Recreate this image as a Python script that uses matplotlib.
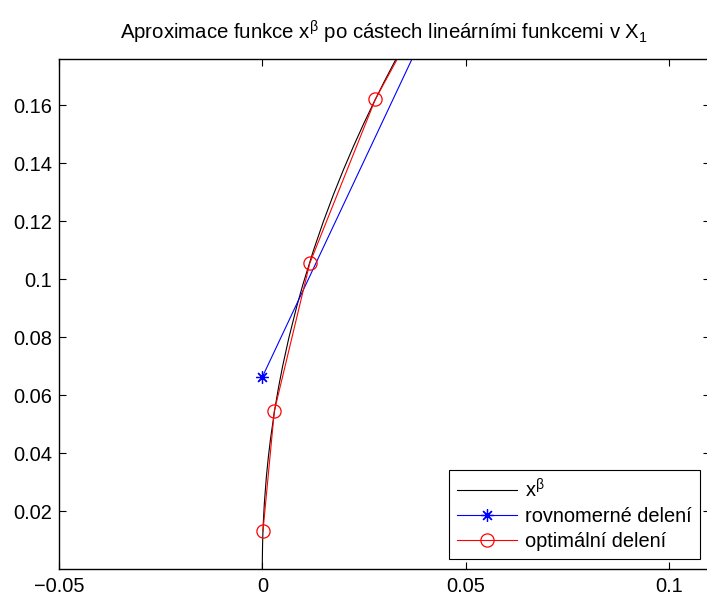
import matplotlib
matplotlib.use("Agg")
import matplotlib.pyplot as plt

plt.rcParams["font.family"] = ["Liberation Sans", "DejaVu Sans"]
plt.rcParams["mathtext.fontset"] = "custom"
plt.rcParams["mathtext.rm"] = "Liberation Sans"
plt.rcParams["mathtext.it"] = "Liberation Sans"
plt.rcParams["mathtext.bf"] = "Liberation Sans"

# sampled curve x^beta
curve_x = [0.0, 0.00001, 0.00005, 0.0001, 0.00016, 0.00025, 0.0005, 0.001, 0.0015,
           0.002, 0.003, 0.004, 0.005, 0.0065, 0.0085, 0.01, 0.0125, 0.015,
           0.0175, 0.02, 0.0225, 0.025, 0.0275, 0.03, 0.0325, 0.035, 0.04]
curve_y = [0.0, 0.00334, 0.00735, 0.01032, 0.01310, 0.01615, 0.02268, 0.03183, 0.03882,
           0.04469, 0.05450, 0.06274, 0.06997, 0.07956, 0.09072, 0.09821, 0.10954, 0.11977,
           0.12916, 0.13787, 0.14606, 0.15379, 0.16113, 0.16814, 0.17486, 0.18132, 0.19355]

# uniform division nodes
unif_x = [0.0, 0.1]
unif_y = [0.0662, 0.3642]

# optimal division nodes
opt_x = [0.00016, 0.00296, 0.01166, 0.0278, 0.048]
opt_y = [0.0131, 0.0545, 0.1054, 0.1620, 0.2140]

fig = plt.figure(figsize=(7.07, 5.97), dpi=100)
ax = fig.add_axes([59 / 707, 28 / 597, 650.6 / 707, 510 / 597])

ax.plot(curve_x, curve_y, color="black", lw=0.8, label=r"x$^{\beta}$")
ax.plot(unif_x, unif_y, color="blue", lw=0.8, marker=(8, 2, 0), ms=9,
        mew=0.9, label="rovnomerné delení")
ax.plot(opt_x, opt_y, color="red", lw=0.8, marker="o", ms=9.5, mfc="none",
        mew=0.9, label="optimální delení")

ax.set_xlim(-0.05, 0.11)
ax.set_ylim(0, 0.1759)
ax.set_xticks([-0.05, 0, 0.05, 0.1])
ax.set_xticklabels(["\u22120.05", "0", "0.05", "0.1"])
ax.set_yticks([0.02, 0.04, 0.06, 0.08, 0.1, 0.12, 0.14, 0.16])
ax.set_yticklabels(["0.02", "0.04", "0.06", "0.08", "0.1", "0.12", "0.14", "0.16"])
ax.tick_params(direction="in", length=5, width=0.8, top=True, right=True,
               labelsize=14.4)
ax.tick_params(axis="x", pad=6)
ax.tick_params(axis="y", pad=5)
for s in ax.spines.values():
    s.set_linewidth(1.0)

ax.set_title(r"Aproximace funkce x$^{\beta}$ po cástech lineárními funkcemi v X$_1$",
             fontsize=14.7, pad=14)

leg = ax.legend(loc="lower right", fontsize=14.4, handlelength=3,
                handletextpad=0.4, labelspacing=0.3, borderpad=0.4,
                borderaxespad=0.5, fancybox=False, framealpha=1,
                edgecolor="black")
leg.get_frame().set_linewidth(0.8)

fig.savefig("out.png", dpi=100)
